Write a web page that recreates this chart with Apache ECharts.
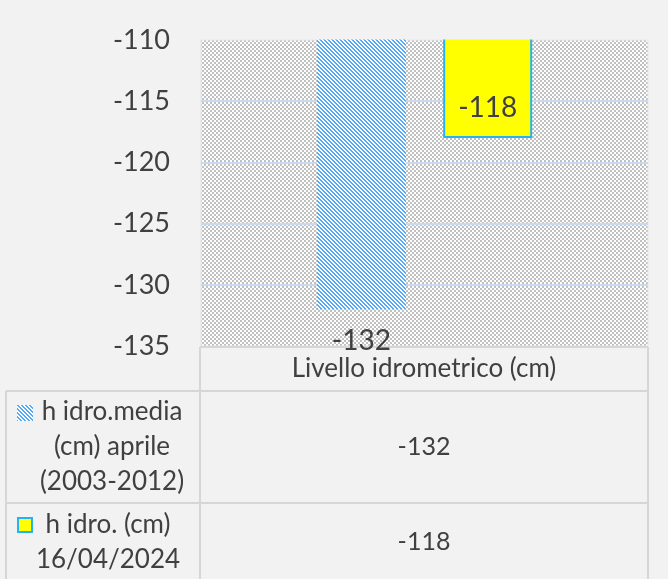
<!DOCTYPE html>
<html>
<head>
<meta charset="utf-8">
<script src="https://cdn.jsdelivr.net/npm/echarts@6/dist/echarts.min.js"></script>
<style>
  html, body { margin: 0; padding: 0; background: #f2f2f2; }
  #chart { width: 668px; height: 579px; }
</style>
</head>
<body>
<div id="chart"></div>
<script>
// dati
const categories = ['Livello idrometrico (cm)'];
const seriesNames = ['h idro.media\n(cm) aprile\n(2003-2012)', 'h idro. (cm)\n16/04/2024'];
const mediaValues = [-132];
const attualeValues = [-118];
const yMin = -135, yMax = -110, yStep = 5;

const textColor = '#404040';
const font = 'Lato';

// pattern a scacchi per lo sfondo dell'area del grafico
function checkerPattern() {
    const c = document.createElement('canvas');
    c.width = 4; c.height = 4;
    const ctx = c.getContext('2d');
    ctx.fillStyle = '#ffffff';
    ctx.fillRect(0, 0, 4, 4);
    ctx.fillStyle = '#c0c0c0';
    ctx.fillRect(0, 0, 2, 2);
    ctx.fillRect(2, 2, 2, 2);
    return c;
}

// righe diagonali per la media
function stripePattern() {
    const c = document.createElement('canvas');
    c.width = 4; c.height = 4;
    const ctx = c.getContext('2d');
    ctx.fillStyle = '#ffffff';
    ctx.fillRect(0, 0, 4, 4);
    ctx.fillStyle = '#56a9f6';
    for (let x = 0; x < 4; x++) {
        for (let y = 0; y < 4; y++) {
            if (((x - y) % 4 + 4) % 4 < 2) ctx.fillRect(x, y, 1, 1);
        }
    }
    return c;
}

const stripes = { image: stripePattern(), repeat: 'repeat' };
const checker = { image: checkerPattern(), repeat: 'repeat' };
const lineColor = '#d6d6d6';

function hLine(x1, x2, y) {
    return { type: 'line', z: 1, shape: { x1, y1: y, x2, y2: y }, style: { stroke: lineColor, lineWidth: 2 } };
}
function vLine(x, y1, y2) {
    return { type: 'line', z: 1, shape: { x1: x, y1, x2: x, y2 }, style: { stroke: lineColor, lineWidth: 2 } };
}
function tableText(text, x, y, opts) {
    return {
        type: 'text', z: 1, x, y,
        style: Object.assign({
            text, fill: textColor, font: '26px ' + font,
            align: 'center', verticalAlign: 'middle', lineHeight: 35
        }, opts || {})
    };
}

const chart = echarts.init(document.getElementById('chart'));

let option = {
    backgroundColor: '#f2f2f2',
    animation: false,
    grid: {
        left: 201, right: 20, top: 40, bottom: 233,
        show: true,
        backgroundColor: checker,
        borderColor: '#e4e4e4',
        borderWidth: 1
    },
    xAxis: {
        type: 'category',
        data: categories,
        axisLine: { show: false },
        axisTick: { show: false },
        axisLabel: { show: false },
        splitLine: { show: false }
    },
    yAxis: {
        type: 'value',
        min: yMin,
        max: yMax,
        interval: yStep,
        axisLine: { show: false },
        axisTick: { show: false },
        axisLabel: { color: textColor, fontFamily: font, fontSize: 27, margin: 31 },
        splitLine: { show: true, showMinLine: false, showMaxLine: false, lineStyle: { color: '#c9d9f2', width: 2 } }
    },
    series: [
        {
            name: seriesNames[0],
            type: 'bar',
            data: mediaValues,
            barWidth: 89,
            barGap: '42%',
            clip: false,
            itemStyle: { color: stripes },
            label: {
                show: true, position: 'bottom', distance: 18,
                color: textColor, fontFamily: font, fontSize: 28
            }
        },
        {
            name: seriesNames[1],
            type: 'bar',
            data: attualeValues,
            barWidth: 89,
            clip: false,
            itemStyle: { color: '#ffff00', borderColor: '#22b4ec', borderWidth: 2 },
            label: {
                show: true, position: 'insideBottom', distance: 16,
                color: textColor, fontFamily: font, fontSize: 28
            }
        }
    ],
    graphic: [
        // copre le barre sopra l'area del grafico
        { type: 'rect', z: 99, shape: { x: 200, y: 0, width: 450, height: 39.5 }, style: { fill: '#f2f2f2' } },
        // tabella dati
        hLine(200, 648, 347),
        hLine(6, 648, 391),
        hLine(6, 648, 503),
        vLine(6, 391, 579),
        vLine(200, 347, 579),
        vLine(648, 347, 579),
        tableText(categories[0], 424, 369),
        tableText(seriesNames[0], 112, 447),
        tableText(String(mediaValues[0]), 424, 447, { font: '25px ' + font }),
        tableText(seriesNames[1], 108, 542),
        tableText(String(attualeValues[0]), 424, 542, { font: '25px ' + font }),
        { type: 'rect', z: 1, shape: { x: 17, y: 405, width: 16, height: 16 }, style: { fill: stripes } },
        { type: 'rect', z: 1, shape: { x: 18, y: 518, width: 14, height: 14 }, style: { fill: '#ffff00', stroke: '#22b4ec', lineWidth: 2 } }
    ]
};

chart.setOption(option);
</script>
</body>
</html>
